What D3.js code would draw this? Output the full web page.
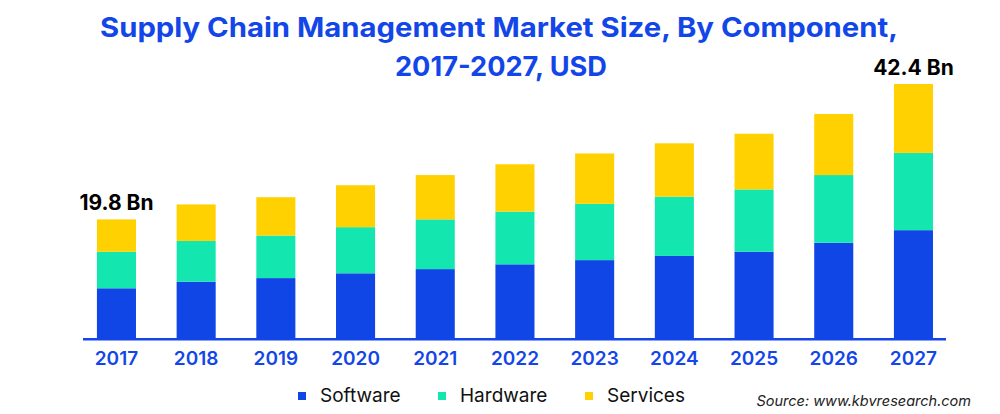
<!DOCTYPE html>
<html>
<head>
<meta charset="utf-8">
<script src="https://cdn.jsdelivr.net/npm/d3@7"></script>
<style>
  body { margin: 0; background: #fff; }
  svg { display: block; font-family: Inter, "Noto Sans", sans-serif; }
</style>
</head>
<body>
<div id="chart"></div>
<script>
// data (USD Bn)
const years = ["2017", "2018", "2019", "2020", "2021", "2022", "2023", "2024", "2025", "2026", "2027"];
const software = [8.3, 9.4, 10.0, 10.8, 11.5, 12.3, 13.0, 13.7, 14.4, 15.9, 18.0];
const hardware = [6.1, 6.8, 7.1, 7.7, 8.3, 8.8, 9.4, 9.9, 10.4, 11.3, 12.9];
const services = [5.4, 6.1, 6.4, 7.0, 7.4, 7.9, 8.4, 8.9, 9.3, 10.2, 11.5];
const seriesNames = ["Software", "Hardware", "Services"];
const colors = ["#1045e6", "#14e6b0", "#ffd100"];
const totalLabels = { "2017": "19.8 Bn", "2027": "42.4 Bn" };

const width = 1000, height = 414;
const blue = "#1346e8";

const rows = years.map((y, i) => ({
  year: y, Software: software[i], Hardware: hardware[i], Services: services[i]
}));
const stacked = d3.stack().keys(seriesNames)(rows);

const x = d3.scaleBand()
  .domain(years)
  .range([76.6, 953.3])
  .paddingInner(0.51)
  .paddingOuter(0.255);

const y = d3.scaleLinear()
  .domain([0, 42.4])
  .range([338, 84]);

const svg = d3.select("#chart").append("svg")
  .attr("width", width)
  .attr("height", height)
  .attr("viewBox", [0, 0, width, height]);

// title
const title = svg.append("g")
  .attr("fill", blue)
  .attr("font-weight", 700)
  .attr("font-size", 27)
  .attr("text-anchor", "middle");
title.append("text")
  .attr("x", 499).attr("y", 36.7)
  .attr("textLength", 798).attr("lengthAdjust", "spacingAndGlyphs")
  .text("Supply Chain Management Market Size, By Component,");
title.append("text")
  .attr("x", 501).attr("y", 76)
  .attr("textLength", 212).attr("lengthAdjust", "spacingAndGlyphs")
  .text("2017-2027, USD");

// bars
svg.append("g")
  .selectAll("g")
  .data(stacked)
  .join("g")
  .attr("fill", (d, i) => colors[i])
  .selectAll("rect")
  .data(d => d)
  .join("rect")
  .attr("x", d => x(d.data.year))
  .attr("y", d => y(d[1]))
  .attr("height", d => y(d[0]) - y(d[1]))
  .attr("width", x.bandwidth());

// baseline
svg.append("line")
  .attr("x1", 83).attr("x2", 946)
  .attr("y1", 339.2).attr("y2", 339.2)
  .attr("stroke", blue)
  .attr("stroke-width", 2.6);

// x axis labels
const xAxis = svg.append("g")
  .attr("transform", "translate(0,338)")
  .call(d3.axisBottom(x).tickSize(0).tickPadding(14));
xAxis.select(".domain").remove();
xAxis.selectAll("text")
  .attr("font-family", "Inter, sans-serif")
  .attr("font-size", 19)
  .attr("font-weight", 600)
  .attr("fill", blue);

// total labels
const last = stacked[stacked.length - 1];
svg.append("g")
  .selectAll("text")
  .data(last.filter(d => totalLabels[d.data.year]))
  .join("text")
  .attr("x", d => x(d.data.year) + x.bandwidth() / 2)
  .attr("y", d => y(d[1]) - 9.5)
  .attr("text-anchor", "middle")
  .attr("font-size", 21)
  .attr("font-weight", 700)
  .attr("fill", "#000")
  .text(d => totalLabels[d.data.year]);

// legend
const legendX = [298, 438, 585];
const legend = svg.append("g")
  .selectAll("g")
  .data(seriesNames)
  .join("g")
  .attr("transform", (d, i) => `translate(${legendX[i]},392)`);
legend.append("rect")
  .attr("width", 8).attr("height", 8)
  .attr("fill", (d, i) => colors[i]);
legend.append("text")
  .attr("x", 22).attr("y", 9.7)
  .attr("font-size", 19)
  .attr("fill", "#111")
  .text(d => d);

// source
svg.append("text")
  .attr("x", 971).attr("y", 405.7)
  .attr("text-anchor", "end")
  .attr("font-size", 14.5)
  .attr("font-style", "italic")
  .attr("fill", "#222")
  .text("Source: www.kbvresearch.com");
</script>
</body>
</html>
